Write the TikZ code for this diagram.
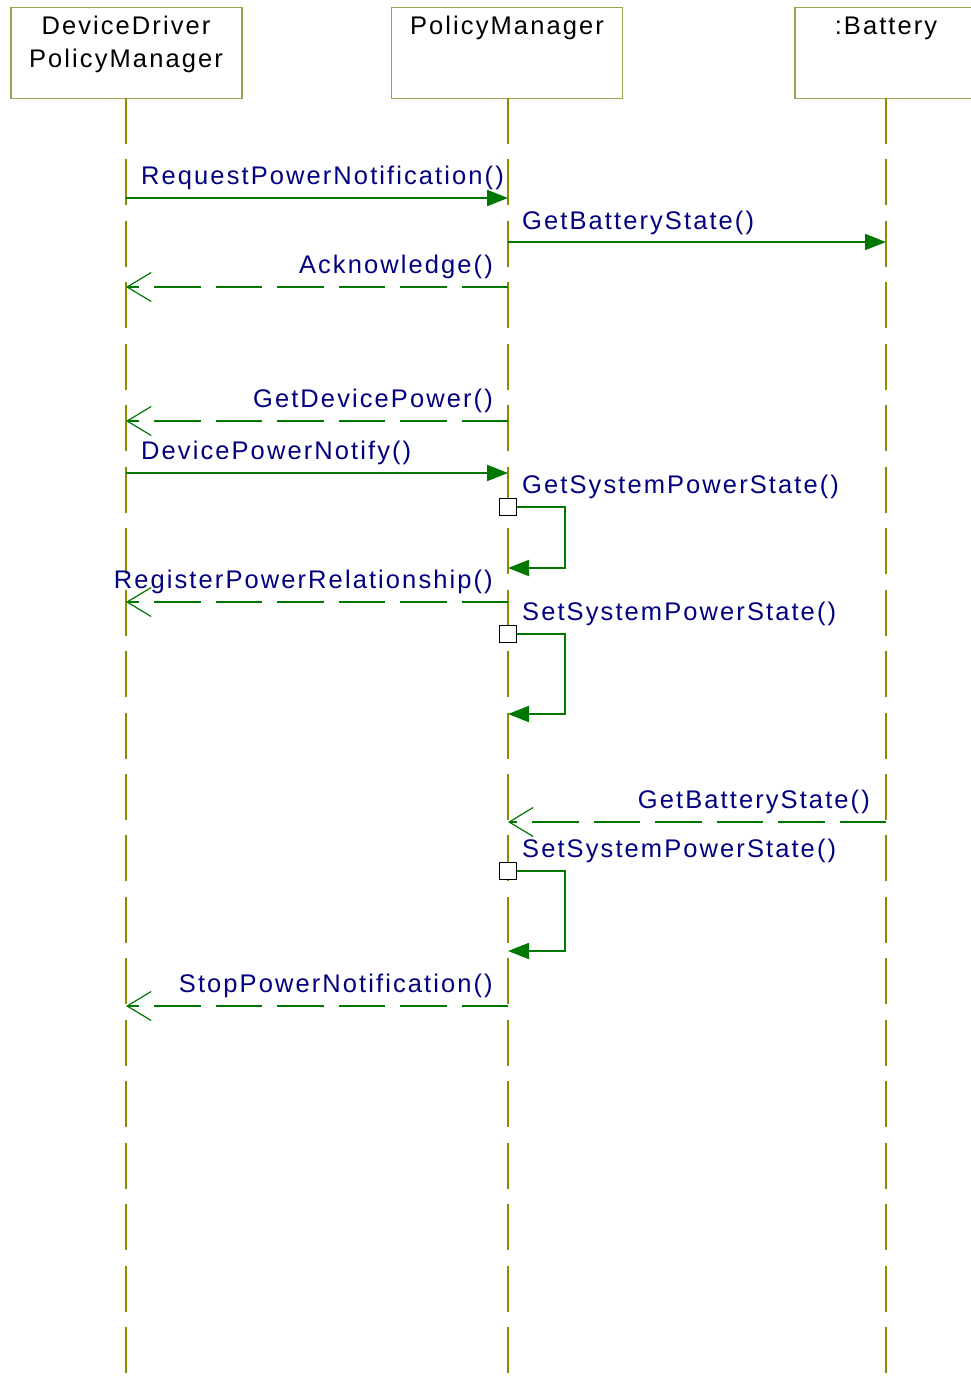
\documentclass[tikz,border=0pt]{standalone}
\usepackage{fontspec}
\setmainfont{Liberation Sans}[LetterSpace=8.2]
\usetikzlibrary{arrows.meta}
\definecolor{boxc}{HTML}{A0A050}
\definecolor{life}{HTML}{8C8C00}
\definecolor{msgc}{HTML}{007800}
\definecolor{txt}{HTML}{000080}
\begin{document}
\begin{tikzpicture}[x=1pt,y=-1pt,
  obj/.style={draw=boxc, line width=1.3pt, fill=white, minimum width=231pt, minimum height=91pt, anchor=north, inner sep=0pt},
  head/.style={font=\fontsize{25.5}{33}\selectfont, anchor=base, inner sep=0pt},
  lifeline/.style={draw=life, line width=1.2pt, dash pattern=on 46pt off 15.45pt},
  call/.style={draw=msgc, line width=2pt, -{Triangle[length=21pt,width=16pt]}},
  reply/.style={draw=msgc, line width=1.2pt, dash pattern=on 46.5pt off 15pt, -{Straight Barb[length=24pt,width=29pt]}},
  lbl/.style={text=txt, font=\fontsize{25.5}{30}\selectfont, inner sep=0pt},
  act/.style={draw=black, line width=1.5pt, fill=white, minimum size=17pt, inner sep=0pt}]
\useasboundingbox (0,0) rectangle (971,1387);
\fill[white] (0,0) rectangle (971,1387);
% objects
\node[obj] (dd) at (126.5,7) {};
\node[obj] (pm) at (507,7) {};
\node[obj, minimum width=182pt] (bat) at (886,7) {};
\node[head] (ddt1) at (126,34) {DeviceDriver};
\node[head] (ddt2) at (126,67) {PolicyManager};
\node[head] (pmt) at (507,34) {PolicyManager};
\node[head] (batt) at (886,34) {:Battery};
% lifelines
\coordinate (e1) at (126,1373);
\coordinate (e2) at (508,1373);
\coordinate (e3) at (886,1373);
\coordinate (t1) at (126,98);
\coordinate (t2) at (508,98);
\coordinate (t3) at (886,98);
\draw[lifeline] (t1) -- (e1);
\draw[lifeline] (t2) -- (e2);
\draw[lifeline] (t3) -- (e3);
% 1
\coordinate (a1) at (126,198); \coordinate (b1) at (508,198);
\draw[call] (a1) -- (b1);
\node[lbl, anchor=base west] (l1) at (141,184) {RequestPowerNotification()};
% 2
\coordinate (a2) at (508,242); \coordinate (b2) at (886,242);
\draw[call] (a2) -- (b2);
\node[lbl, anchor=base west] (l2) at (522,229) {GetBatteryState()};
% 3
\coordinate (a3) at (508,287); \coordinate (b3) at (126,287);
\draw[reply] (a3) -- (b3);
\node[lbl, anchor=base east] (l3) at (493,273) {Acknowledge()};
% 4
\coordinate (a4) at (508,421); \coordinate (b4) at (126,421);
\draw[reply] (a4) -- (b4);
\node[lbl, anchor=base east] (l4) at (493,407) {GetDevicePower()};
% 5
\coordinate (a5) at (126,473); \coordinate (b5) at (508,473);
\draw[call] (a5) -- (b5);
\node[lbl, anchor=base west] (l5) at (141,459) {DevicePowerNotify()};
% 6 self
\node[act] (s1) at (508,507) {};
\coordinate (s1c) at (565,568); \coordinate (s1r) at (508,568);
\draw[call] (s1.east) -| (s1c) -- (s1r);
\node[lbl, anchor=base west] (l6) at (522,493) {GetSystemPowerState()};
% 7
\coordinate (a7) at (508,602); \coordinate (b7) at (126,602);
\draw[reply] (a7) -- (b7);
\node[lbl, anchor=base east] (l7) at (493,588) {RegisterPowerRelationship()};
% 8 self
\node[act] (s2) at (508,634) {};
\coordinate (s2c) at (565,714); \coordinate (s2r) at (508,714);
\draw[call] (s2.east) -| (s2c) -- (s2r);
\node[lbl, anchor=base west] (l8) at (522,620) {SetSystemPowerState()};
% 9
\coordinate (a9) at (886,822); \coordinate (b9) at (508,822);
\draw[reply] (a9) -- (b9);
\node[lbl, anchor=base east] (l9) at (870,808) {GetBatteryState()};
% 10 self
\node[act] (s3) at (508,871) {};
\coordinate (s3c) at (565,951); \coordinate (s3r) at (508,951);
\draw[call] (s3.east) -| (s3c) -- (s3r);
\node[lbl, anchor=base west] (l10) at (522,857) {SetSystemPowerState()};
% 11
\coordinate (a11) at (508,1006); \coordinate (b11) at (126,1006);
\draw[reply] (a11) -- (b11);
\node[lbl, anchor=base east] (l11) at (493,992) {StopPowerNotification()};
\end{tikzpicture}
\end{document}
